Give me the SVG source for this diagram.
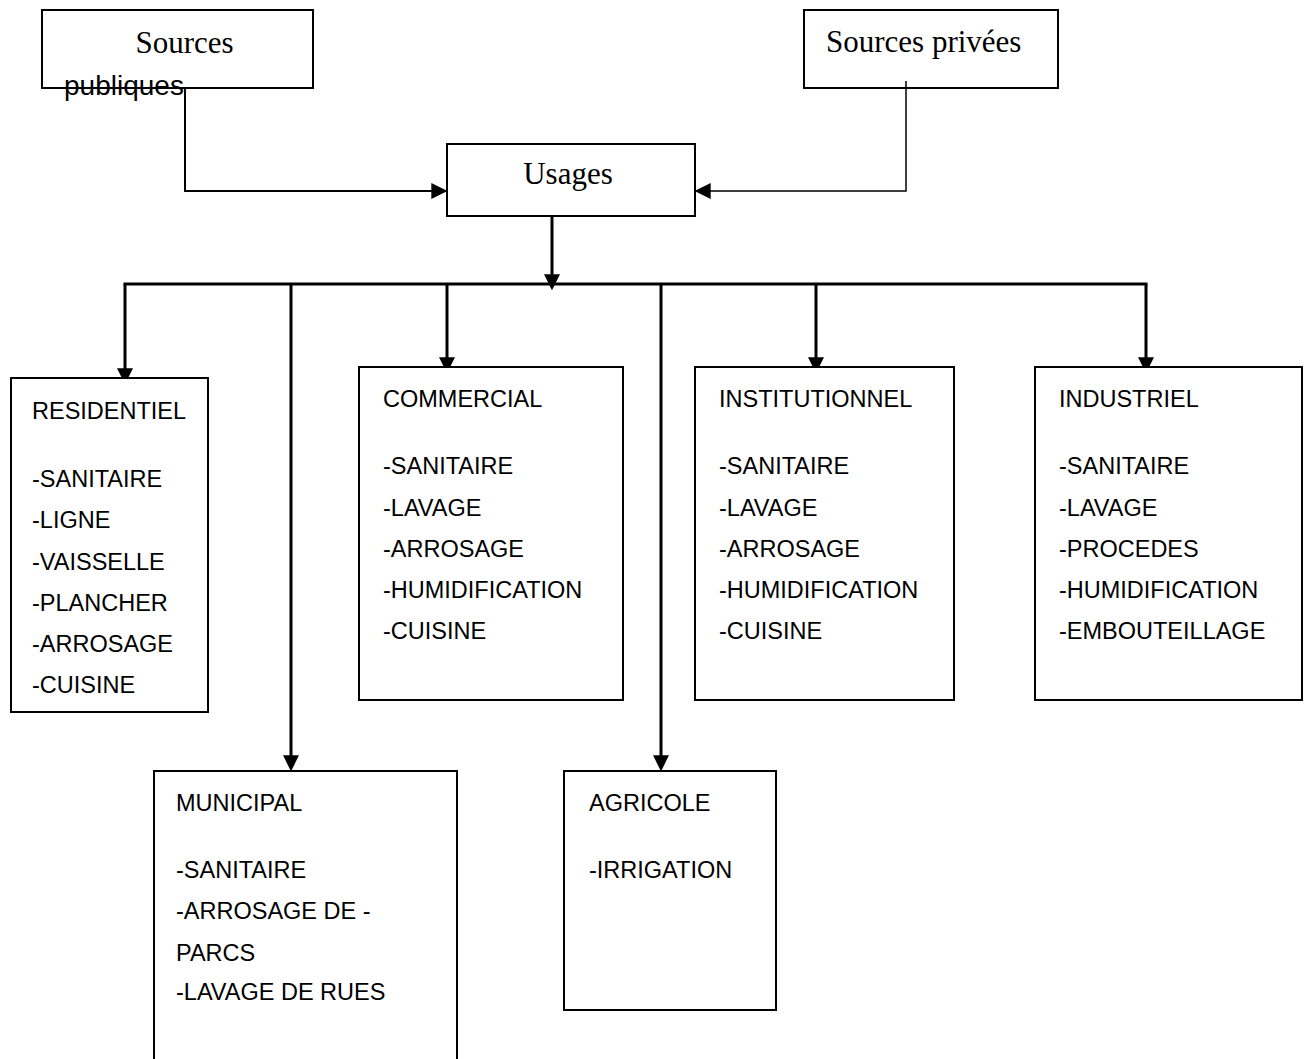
<svg xmlns="http://www.w3.org/2000/svg" width="1306" height="1059" viewBox="0 0 1306 1059">
<style>
.box{fill:#fff;stroke:#000;stroke-width:2}
.serif{font-family:"Liberation Serif","Times New Roman",serif;font-size:31px;fill:#000}
.sans{font-family:"Liberation Sans",Arial,sans-serif;font-size:23.5px;fill:#000}
.pub{font-family:"Liberation Sans",Arial,sans-serif;font-size:28px;fill:#000}
.con{fill:none;stroke:#000;stroke-width:3}
</style>
<defs>
<marker id="arr" markerUnits="userSpaceOnUse" markerWidth="16" markerHeight="16" viewBox="0 0 15 15" refX="10" refY="7.5" orient="auto">
<path d="M0,0 L15,7.5 L0,15 z" fill="#000"/>
</marker>
</defs>
<rect width="1306" height="1059" fill="#fff"/>
<g id="node-sources-publiques">
<rect class="box" x="42" y="10" width="271" height="78"/>
<text class="serif" x="184.5" y="53" text-anchor="middle">Sources</text>
<text class="pub" x="64" y="95">publiques</text>
</g>
<g id="node-sources-privees">
<rect class="box" x="804" y="10" width="254" height="78"/>
<text class="serif" x="826" y="52">Sources privées</text>
</g>
<g id="node-usages">
<rect class="box" x="447" y="144" width="248" height="72"/>
<text class="serif" x="568" y="184" text-anchor="middle">Usages</text>
</g>
<g id="connectors">
<path d="M185,88 V191 H442" style="fill:none;stroke:#000;stroke-width:2" marker-end="url(#arr)"/>
<path d="M906,81 V191 H700" style="fill:none;stroke:#000;stroke-width:1.5" marker-end="url(#arr)"/>
<path class="con" d="M552,216 V285" marker-end="url(#arr)"/>
<path class="con" d="M123.5,284 H1147.5"/>
<path class="con" d="M125,284 V379" marker-end="url(#arr)"/>
<path class="con" d="M291,284 V766" marker-end="url(#arr)"/>
<path class="con" d="M447,284 V368" marker-end="url(#arr)"/>
<path class="con" d="M661,284 V766" marker-end="url(#arr)"/>
<path class="con" d="M816,284 V368" marker-end="url(#arr)"/>
<path class="con" d="M1146,284 V368" marker-end="url(#arr)"/>
</g>
<g id="node-residentiel">
<rect class="box" x="11" y="378" width="197" height="334"/>
<text class="sans" x="32" y="419">RESIDENTIEL</text>
<text class="sans" x="32" y="487">-SANITAIRE</text>
<text class="sans" x="32" y="528">-LIGNE</text>
<text class="sans" x="32" y="569.5">-VAISSELLE</text>
<text class="sans" x="32" y="611">-PLANCHER</text>
<text class="sans" x="32" y="652">-ARROSAGE</text>
<text class="sans" x="32" y="693">-CUISINE</text>
</g>
<g id="node-commercial">
<rect class="box" x="359" y="367" width="264" height="333"/>
<text class="sans" x="383" y="407">COMMERCIAL</text>
<text class="sans" x="383" y="474">-SANITAIRE</text>
<text class="sans" x="383" y="516">-LAVAGE</text>
<text class="sans" x="383" y="557">-ARROSAGE</text>
<text class="sans" x="383" y="598">-HUMIDIFICATION</text>
<text class="sans" x="383" y="639">-CUISINE</text>
</g>
<g id="node-institutionnel">
<rect class="box" x="695" y="367" width="259" height="333"/>
<text class="sans" x="719" y="407">INSTITUTIONNEL</text>
<text class="sans" x="719" y="474">-SANITAIRE</text>
<text class="sans" x="719" y="516">-LAVAGE</text>
<text class="sans" x="719" y="557">-ARROSAGE</text>
<text class="sans" x="719" y="598">-HUMIDIFICATION</text>
<text class="sans" x="719" y="639">-CUISINE</text>
</g>
<g id="node-industriel">
<rect class="box" x="1035" y="367" width="267" height="333"/>
<text class="sans" x="1059" y="407">INDUSTRIEL</text>
<text class="sans" x="1059" y="474">-SANITAIRE</text>
<text class="sans" x="1059" y="516">-LAVAGE</text>
<text class="sans" x="1059" y="557">-PROCEDES</text>
<text class="sans" x="1059" y="598">-HUMIDIFICATION</text>
<text class="sans" x="1059" y="639">-EMBOUTEILLAGE</text>
</g>
<g id="node-municipal">
<rect class="box" x="154" y="771" width="303" height="300"/>
<text class="sans" x="176" y="811">MUNICIPAL</text>
<text class="sans" x="176" y="878">-SANITAIRE</text>
<text class="sans" x="176" y="919">-ARROSAGE DE -</text>
<text class="sans" x="176" y="961">PARCS</text>
<text class="sans" x="176" y="1000">-LAVAGE DE RUES</text>
</g>
<g id="node-agricole">
<rect class="box" x="564" y="771" width="212" height="239"/>
<text class="sans" x="589" y="811">AGRICOLE</text>
<text class="sans" x="589" y="878">-IRRIGATION</text>
</g>
</svg>
